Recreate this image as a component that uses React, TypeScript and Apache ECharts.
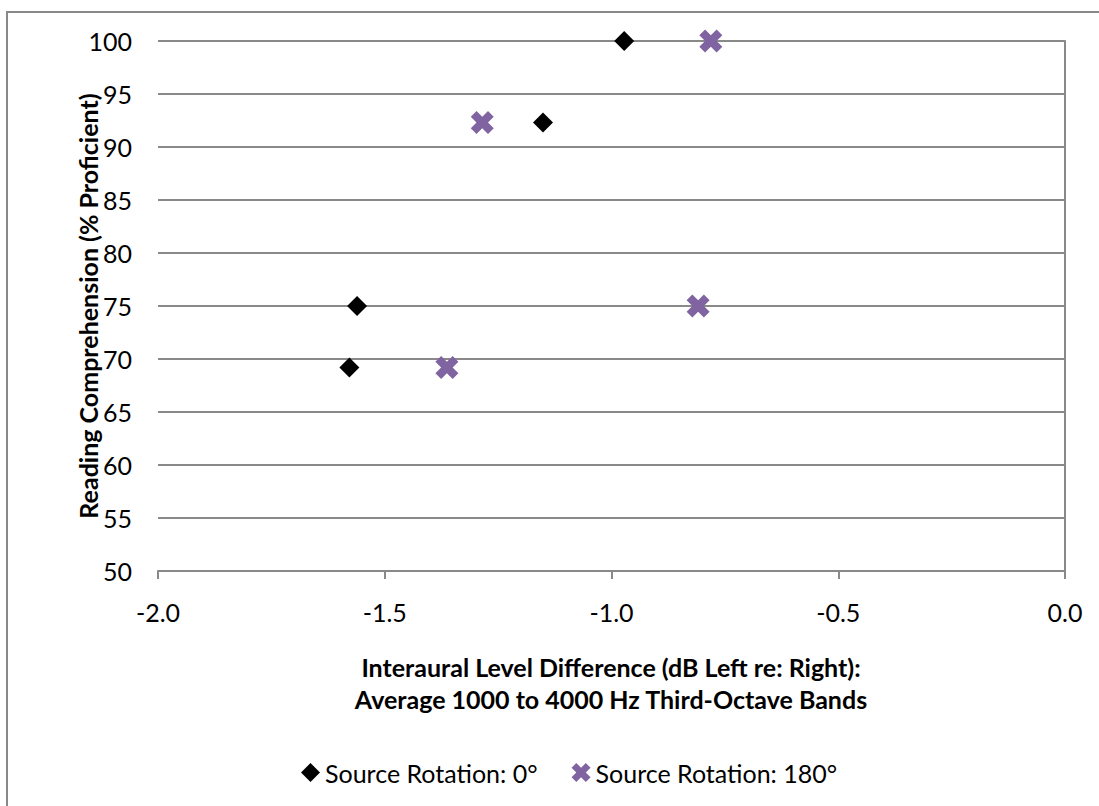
import React, { useEffect, useRef } from 'react';
import * as echarts from 'echarts';

const rot0X = [-0.972, -1.151, -1.561, -1.578];
const rot0Y = [100, 92.3, 75.0, 69.2];
const rot180X = [-0.781, -1.285, -0.809, -1.363];
const rot180Y = [100, 92.3, 75.0, 69.2];
const seriesNames = ['Source Rotation: 0°', 'Source Rotation: 180°'];
const xTitleLines = [
  'Interaural Level Difference (dB Left re: Right):',
  'Average 1000 to 4000 Hz Third-Octave Bands',
];
const yTitle = 'Reading Comprehension (% Proficient)';
const xMin = -2;
const xMax = 0;
const xStep = 0.5;
const yMin = 50;
const yMax = 100;
const yStep = 5;

const FONT = 'Lato, Carlito, Calibri, sans-serif';
const FS = 25;
const GRAY = '#898989';
const PURPLE = '#8064A2';
const X_PATH =
  'path://M0,2.5L2.5,0L5,2.5L7.5,0L10,2.5L7.5,5L10,7.5L7.5,10L5,7.5L2.5,10L0,7.5L2.5,5Z';

export default function App() {
  const ref = useRef<HTMLDivElement>(null);
  useEffect(() => {
    if (!ref.current) return;
    const chart = echarts.init(ref.current, undefined, { renderer: 'svg' });
    const pts0 = rot0X.map((x, i) => [x, rot0Y[i]]);
    const pts1 = rot180X.map((x, i) => [x, rot180Y[i]]);
    chart.setOption({
      animation: false,
      backgroundColor: '#ffffff',
      textStyle: { fontFamily: FONT },
      grid: { left: 158, right: 34, top: 41, bottom: 235, containLabel: false },
      xAxis: {
        type: 'value',
        min: xMin,
        max: xMax,
        interval: xStep,
        axisLine: { show: true, lineStyle: { color: GRAY, width: 2 } },
        axisTick: { show: true, length: 8, lineStyle: { color: GRAY, width: 2 } },
        axisLabel: {
          formatter: (v: number) => v.toFixed(1),
          fontSize: FS,
          fontFamily: FONT,
          color: '#000',
          margin: 28,
        },
        splitLine: { show: false },
      },
      yAxis: [
        {
          type: 'value',
          min: yMin,
          max: yMax,
          interval: yStep,
          position: 'left',
          axisLine: { show: false },
          axisTick: { show: false },
          axisLabel: { fontSize: FS, fontFamily: FONT, color: '#000', margin: 26 },
          splitLine: { show: true, lineStyle: { color: GRAY, width: 2 } },
        },
        {
          type: 'value',
          min: yMin,
          max: yMax,
          interval: yStep,
          position: 'right',
          axisLine: { show: true, lineStyle: { color: GRAY, width: 2 } },
          axisTick: { show: false },
          axisLabel: { show: false },
          splitLine: { show: false },
        },
      ],
      legend: {
        left: 296,
        top: 755,
        itemWidth: 19,
        itemHeight: 19,
        itemGap: 34,
        textStyle: { fontSize: FS, fontFamily: FONT, color: '#000' },
        data: [
          { name: seriesNames[0], icon: 'diamond', itemStyle: { color: '#000', opacity: 1 } },
          { name: seriesNames[1], icon: X_PATH, itemStyle: { color: PURPLE, opacity: 1 } },
        ],
      },
      series: [
        {
          name: seriesNames[0],
          type: 'scatter',
          yAxisIndex: 0,
          symbol: 'diamond',
          symbolSize: [20, 20],
          itemStyle: { color: '#000', opacity: 1 },
          data: pts0,
        },
        {
          name: seriesNames[1],
          type: 'scatter',
          yAxisIndex: 0,
          symbol: X_PATH,
          symbolSize: [23, 23],
          itemStyle: { color: PURPLE, opacity: 1 },
          data: pts1,
        },
      ],
      graphic: [
        {
          type: 'rect',
          shape: { x: 7, y: 12, width: 1300, height: 1000 },
          style: { fill: 'none', stroke: GRAY, lineWidth: 2 },
          silent: true,
        },
        {
          type: 'text',
          x: 88,
          y: 306,
          rotation: Math.PI / 2,
          style: {
            text: yTitle,
            font: `bold ${FS}px ${FONT}`,
            fill: '#000',
            textAlign: 'center',
            textVerticalAlign: 'middle',
          },
        },
        {
          type: 'text',
          x: 611,
          y: 667,
          style: {
            text: xTitleLines[0],
            font: `bold ${FS}px ${FONT}`,
            fill: '#000',
            textAlign: 'center',
            textVerticalAlign: 'middle',
          },
        },
        {
          type: 'text',
          x: 611,
          y: 699,
          style: {
            text: xTitleLines[1],
            font: `bold ${FS}px ${FONT}`,
            fill: '#000',
            textAlign: 'center',
            textVerticalAlign: 'middle',
          },
        },
      ],
    });
    return () => chart.dispose();
  }, []);
  return (
    <div
      ref={ref}
      style={{ position: 'absolute', left: 0, top: 0, width: 1099, height: 806 }}
    />
  );
}
